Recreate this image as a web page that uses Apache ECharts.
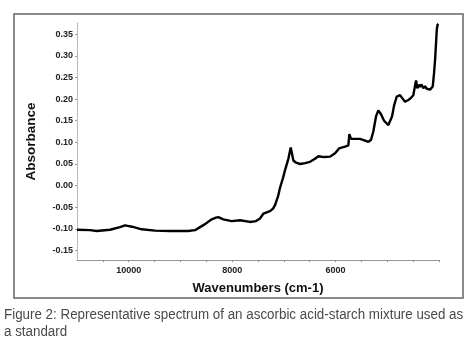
<!DOCTYPE html>
<html>
<head>
<meta charset="utf-8">
<script src="https://cdn.jsdelivr.net/npm/echarts@6/dist/echarts.min.js"></script>
<style>
  html, body { margin: 0; padding: 0; background: #fff; }
  #chart { width: 475px; height: 351px; }
</style>
</head>
<body>
<div id="chart"></div>
<script>
// spectrum (wavenumber, absorbance)
const wavenumbers = [11000, 10749, 10619, 10362, 10168, 10072, 9936, 9749, 9491, 9201, 8853, 8718, 8621, 8524, 8395, 8312, 8267, 8171, 8008, 7848, 7654, 7538, 7461, 7397, 7267, 7209, 7171, 7113, 7074, 7016, 6977, 6913, 6867, 6816, 6764, 6687, 6590, 6494, 6397, 6333, 6223, 6107, 6010, 5933, 5817, 5753, 5734, 5701, 5623, 5527, 5430, 5366, 5314, 5270, 5218, 5173, 5121, 5063, 4979, 4908, 4869, 4817, 4753, 4695, 4657, 4593, 4541, 4497, 4464, 4444, 4419, 4386, 4367, 4338, 4303, 4270, 4237, 4202, 4173, 4121, 4096, 4076, 4057, 4043, 4028, 4012]
const absorbance = [-0.102, -0.103, -0.105, -0.102, -0.096, -0.092, -0.095, -0.101, -0.104, -0.105, -0.105, -0.103, -0.096, -0.089, -0.078, -0.074, -0.073, -0.078, -0.082, -0.080, -0.084, -0.082, -0.076, -0.065, -0.059, -0.053, -0.045, -0.025, -0.005, 0.018, 0.036, 0.062, 0.088, 0.058, 0.053, 0.050, 0.052, 0.055, 0.062, 0.068, 0.066, 0.067, 0.075, 0.086, 0.090, 0.093, 0.119, 0.108, 0.108, 0.108, 0.104, 0.101, 0.106, 0.125, 0.160, 0.174, 0.165, 0.150, 0.140, 0.160, 0.185, 0.206, 0.209, 0.200, 0.194, 0.198, 0.203, 0.209, 0.212, 0.243, 0.225, 0.233, 0.228, 0.234, 0.225, 0.230, 0.224, 0.228, 0.222, 0.229, 0.260, 0.290, 0.330, 0.360, 0.372, 0.374]

const yTicks = [-0.15, -0.10, -0.05, 0.00, 0.05, 0.10, 0.15, 0.20, 0.25, 0.30, 0.35]
const xLabels = [10000, 8000, 6000]
const xTicks = [10500, 10000, 9500, 9000, 8500, 8000, 7500, 7000, 6500, 6000, 5500, 5000, 4500, 4000]
const caption = 'Figure 2: Representative spectrum of an ascorbic acid-starch mixture used as\na standard'

const chart = echarts.init(document.getElementById('chart'))

const labelFont = {
  color: '#222',
  fontFamily: 'Liberation Sans, Arial, sans-serif',
  fontWeight: 'bold',
  fontSize: 9
}

chart.setOption({
  animation: false,
  grid: {
    left: 77,
    right: 36,
    top: 23,
    bottom: 91
  },
  xAxis: {
    type: 'value',
    min: 4000,
    max: 11000,
    inverse: true,
    name: 'Wavenumbers (cm-1)',
    nameLocation: 'middle',
    nameGap: 22,
    nameTextStyle: {
      color: '#111',
      fontFamily: 'Liberation Sans, Arial, sans-serif',
      fontWeight: 'bold',
      fontSize: 13
    },
    axisLine: { onZero: false, lineStyle: { color: '#999', width: 1 } },
    axisTick: {
      customValues: xTicks,
      length: 2,
      lineStyle: { color: '#888' }
    },
    axisLabel: {
      customValues: xLabels,
      margin: 6,
      formatter: v => String(v),
      ...labelFont
    },
    splitLine: { show: false }
  },
  yAxis: {
    type: 'value',
    min: -0.172,
    max: 0.376,
    name: 'Absorbance',
    nameLocation: 'middle',
    nameGap: 39,
    nameTextStyle: {
      color: '#111',
      fontFamily: 'Liberation Sans, Arial, sans-serif',
      fontWeight: 'bold',
      fontSize: 13.5
    },
    axisLine: { show: true, onZero: false, lineStyle: { color: '#aaa', width: 1, type: 'dotted' } },
    axisTick: {
      show: true,
      customValues: yTicks,
      length: 2,
      lineStyle: { color: '#999' }
    },
    axisLabel: {
      customValues: yTicks,
      margin: 4,
      formatter: v => v.toFixed(2),
      ...labelFont
    },
    splitLine: { show: false }
  },
  series: [
    {
      type: 'line',
      data: wavenumbers.map((w, i) => [w, absorbance[i]]),
      showSymbol: false,
      lineStyle: { color: '#000', width: 2.4 },
      z: 3
    }
  ],
  graphic: [
    {
      type: 'rect',
      shape: { x: 14, y: 14, width: 449, height: 284 },
      style: { fill: 'none', stroke: '#666', lineWidth: 1.5 },
      silent: true
    },
    {
      type: 'text',
      x: 4,
      y: 307,
      scaleX: 0.955,
      style: {
        text: caption,
        fill: '#4a4a4a',
        font: '14px "Liberation Sans", Arial, sans-serif',
        lineHeight: 17
      }
    }
  ]
})

window.addEventListener('resize', () => {
  chart.resize()
})
</script>
</body>
</html>
